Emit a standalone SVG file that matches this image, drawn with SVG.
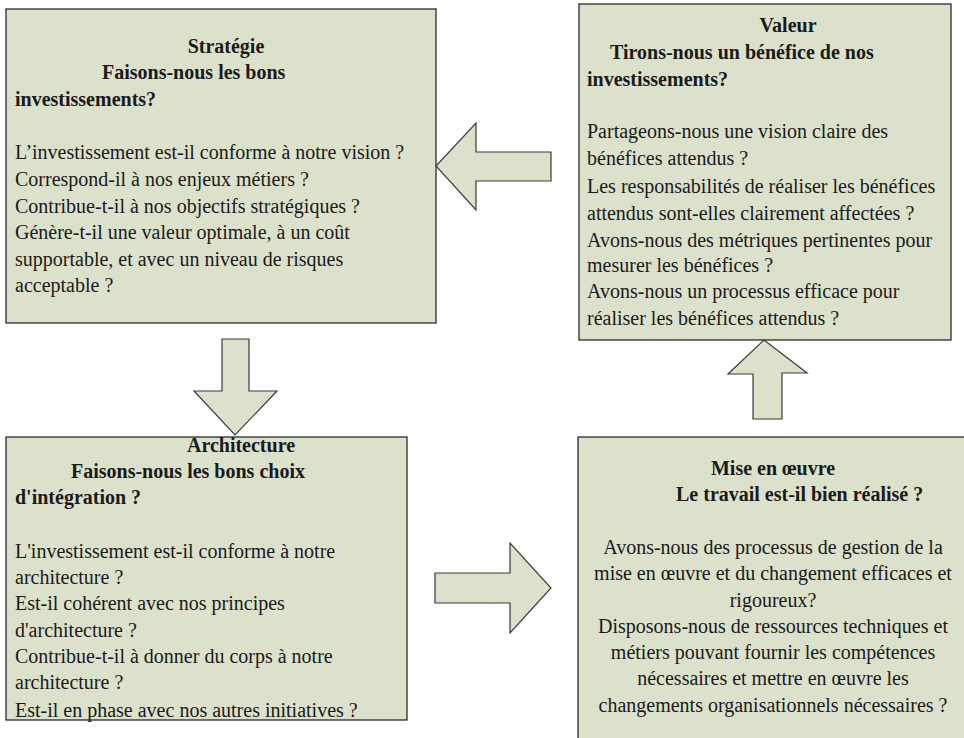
<svg xmlns="http://www.w3.org/2000/svg" width="964" height="738" viewBox="0 0 964 738">
<style>
.box{fill:#dce1cc;stroke:#2b2b2b;stroke-width:1.3}
.arrow{fill:#dce1cc;stroke:#3a3a3a;stroke-width:1.2}
</style>
<rect width="964" height="738" fill="#ffffff"/>
<g id="strategie" font-family="serif" font-size="20" fill="#1a1a1a">
<rect class="box" x="6" y="9" width="430" height="314"/>
<text font-family="serif" font-weight="bold" text-anchor="middle" x="226" y="53">Stratégie</text>
<text font-family="serif" font-weight="bold" x="102" y="79">Faisons-nous les bons</text>
<text font-family="serif" font-weight="bold" x="15" y="106">investissements?</text>
<text font-family="serif" x="15" y="159">L’investissement est-il conforme à notre vision ?</text>
<text font-family="serif" x="15" y="186">Correspond-il à nos enjeux métiers ?</text>
<text font-family="serif" x="15" y="213">Contribue-t-il à nos objectifs stratégiques ?</text>
<text font-family="serif" x="15" y="239">Génère-t-il une valeur optimale, à un coût</text>
<text font-family="serif" x="15" y="266">supportable, et avec un niveau de risques</text>
<text font-family="serif" x="15" y="292">acceptable ?</text>
</g>
<g id="valeur" font-family="Times New Roman" font-size="20" fill="#1a1a1a">
<rect class="box" x="579" y="4" width="372" height="336"/>
<text font-family="Times New Roman" font-weight="bold" text-anchor="middle" x="788" y="32">Valeur</text>
<text font-family="Times New Roman" font-weight="bold" x="610" y="59">Tirons-nous un bénéfice de nos</text>
<text font-family="Times New Roman" font-weight="bold" x="587" y="86">investissements?</text>
<text font-family="Times New Roman" x="587" y="138">Partageons-nous une vision claire des</text>
<text font-family="Times New Roman" x="587" y="165">bénéfices attendus ?</text>
<text font-family="Times New Roman" x="587" y="193">Les responsabilités de réaliser les bénéfices</text>
<text font-family="Times New Roman" x="587" y="220">attendus sont-elles clairement affectées ?</text>
<text font-family="Times New Roman" x="587" y="247">Avons-nous des métriques pertinentes pour</text>
<text font-family="Times New Roman" x="587" y="272">mesurer les bénéfices ?</text>
<text font-family="Times New Roman" x="587" y="298">Avons-nous un processus efficace pour</text>
<text font-family="Times New Roman" x="587" y="325">réaliser les bénéfices attendus ?</text>
</g>
<g id="architecture" font-family="Liberation Serif" font-size="20" fill="#1a1a1a">
<rect class="box" x="6" y="437" width="401" height="283"/>
<text font-family="Liberation Serif" font-weight="bold" text-anchor="middle" x="241" y="452">Architecture</text>
<text font-family="Liberation Serif" font-weight="bold" x="71" y="478">Faisons-nous les bons choix</text>
<text font-family="Liberation Serif" font-weight="bold" x="15" y="504">d'intégration ?</text>
<text font-family="Liberation Serif" x="15" y="558">L'investissement est-il conforme à notre</text>
<text font-family="Liberation Serif" x="15" y="584">architecture ?</text>
<text font-family="Liberation Serif" x="15" y="610">Est-il cohérent avec nos principes</text>
<text font-family="Liberation Serif" x="15" y="637">d'architecture ?</text>
<text font-family="Liberation Serif" x="15" y="663">Contribue-t-il à donner du corps à notre</text>
<text font-family="Liberation Serif" x="15" y="689">architecture ?</text>
<text font-family="Liberation Serif" x="15" y="717">Est-il en phase avec nos autres initiatives ?</text>
</g>
<g id="mise-en-oeuvre" font-family="Liberation Serif" font-size="24" fill="#1a1a1a">
<rect class="box" x="578" y="437" width="400" height="320"/>
<text font-family="Liberation Serif" font-size="20" font-weight="bold" text-anchor="middle" x="773" y="475">Mise en œuvre</text>
<text font-family="Liberation Serif" font-size="20" font-weight="bold" x="676" y="501">Le travail est-il bien réalisé ?</text>
<text font-family="Liberation Serif" font-size="20" text-anchor="middle" x="773" y="554">Avons-nous des processus de gestion de la</text>
<text font-family="Liberation Serif" font-size="20" text-anchor="middle" x="773" y="580">mise en œuvre et du changement efficaces et</text>
<text font-family="Liberation Serif" font-size="20" text-anchor="middle" x="773" y="607">rigoureux?</text>
<text font-family="Liberation Serif" font-size="20" text-anchor="middle" x="773" y="633">Disposons-nous de ressources techniques et</text>
<text font-family="Liberation Serif" font-size="20" text-anchor="middle" x="773" y="659">métiers pouvant fournir les compétences</text>
<text font-family="Liberation Serif" font-size="20" text-anchor="middle" x="773" y="685">nécessaires et mettre en œuvre les</text>
<text font-family="Liberation Serif" font-size="20" text-anchor="middle" x="773" y="712">changements organisationnels nécessaires ?</text>
</g>
<g id="connectors">
<polygon class="arrow" points="551,152 476,152 476,123 436,166 476,210 476,181 551,181"/>
<polygon class="arrow" points="222,339 249,339 249,391 277,391 235,435 194,391 222,391"/>
<polygon class="arrow" points="435,573 510,573 510,543 551,588 510,633 510,603 435,603"/>
<polygon class="arrow" points="753,419 782,419 782,373 807,373 764,340 728,374 753,374"/>
</g>
</svg>
